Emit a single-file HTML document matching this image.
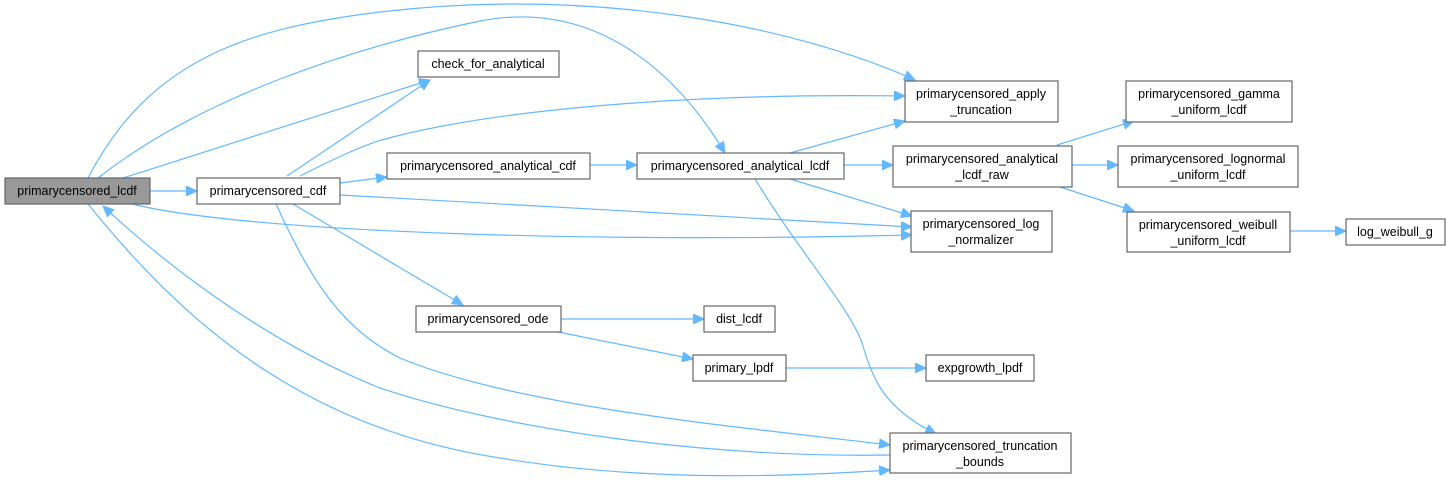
<!DOCTYPE html>
<html><head><meta charset="utf-8"><style>
html,body{margin:0;padding:0;background:#fff;}
svg{display:block;}
text{font-family:"Liberation Sans",Arial,sans-serif;font-size:12.5px;fill:#000;text-anchor:middle;}
.n{fill:#fff;stroke:#666;stroke-width:1.2;}
.e{fill:none;stroke:#63b8ff;stroke-width:1.2;}
</style></head><body>
<svg width="1451" height="484" viewBox="0 0 1451 484" xmlns="http://www.w3.org/2000/svg">
<defs>
<marker id="a" markerUnits="userSpaceOnUse" markerWidth="12" markerHeight="10" refX="11" refY="5" orient="auto">
<path d="M0,0 L11,5 L0,10 Z" fill="#63b8ff" stroke="#63b8ff"/>
</marker>
</defs>
<g transform="translate(0,-2)">
<g marker-end="url(#a)">
<path class="e" d="M150,193 L197,193"/>
<path class="e" d="M123,180 L430,82"/>
<path class="e" d="M88,180 C150,60 250,30 380,14 C600,-12 800,30 915,82"/>
<path class="e" d="M98,180 C200,100 350,50 480,23 C600,0 680,80 725,155"/>
<path class="e" d="M132,206 C250,235 600,245 912,237"/>
<path class="e" d="M88,206 C180,320 300,430 500,460 C650,485 800,478 890,472"/>
<path class="e" d="M890,457 C700,460 500,430 380,390 C280,350 180,280 103,208"/>
<path class="e" d="M287,178 L430,82"/>
<path class="e" d="M300,178 C330,163 360,148 385,141 C500,110 700,95 905,98"/>
<path class="e" d="M340,185 L387,179"/>
<path class="e" d="M340,197 L912,229"/>
<path class="e" d="M293,206 L463,307"/>
<path class="e" d="M276,206 C310,280 340,330 400,360 C520,410 750,430 890,447"/>
<path class="e" d="M590,167 L637,167"/>
<path class="e" d="M790,155 L905,123"/>
<path class="e" d="M844,167 L893,167"/>
<path class="e" d="M790,181 L912,218"/>
<path class="e" d="M755,181 C800,255 850,310 862,345 C874,385 885,410 936,436"/>
<path class="e" d="M1057,147 L1134,123"/>
<path class="e" d="M1072,167 L1118,167"/>
<path class="e" d="M1057,188 L1134,213"/>
<path class="e" d="M1290,233 L1346,233"/>
<path class="e" d="M561,321 L704,321"/>
<path class="e" d="M558,334 L693,361"/>
<path class="e" d="M786,370 L926,370"/>
</g>
<rect x="5" y="180" width="145" height="26" fill="#999" stroke="#666" stroke-width="1.2"/>
<text x="77" y="197">primarycensored_lcdf</text>
<rect class="n" x="197" y="180" width="143" height="26"/><text x="268" y="197">primarycensored_cdf</text>
<rect class="n" x="418" y="53" width="141" height="26"/><text x="488" y="70">check_for_analytical</text>
<rect class="n" x="387" y="155" width="203" height="26"/><text x="488" y="172">primarycensored_analytical_cdf</text>
<rect class="n" x="637" y="155" width="207" height="26"/><text x="740" y="172">primarycensored_analytical_lcdf</text>
<rect class="n" x="905" y="83" width="153" height="41"/><text x="981" y="100">primarycensored_apply</text><text x="981" y="116">_truncation</text>
<rect class="n" x="893" y="148" width="179" height="41"/><text x="982" y="165">primarycensored_analytical</text><text x="982" y="181">_lcdf_raw</text>
<rect class="n" x="911" y="213" width="141" height="41"/><text x="981" y="230">primarycensored_log</text><text x="981" y="246">_normalizer</text>
<rect class="n" x="1126" y="83" width="166" height="41"/><text x="1209" y="100">primarycensored_gamma</text><text x="1209" y="116">_uniform_lcdf</text>
<rect class="n" x="1118" y="148" width="180" height="41"/><text x="1208" y="165">primarycensored_lognormal</text><text x="1208" y="181">_uniform_lcdf</text>
<rect class="n" x="1127" y="214" width="163" height="40"/><text x="1208" y="231">primarycensored_weibull</text><text x="1208" y="247">_uniform_lcdf</text>
<rect class="n" x="1346" y="221" width="99" height="26"/><text x="1395" y="238">log_weibull_g</text>
<rect class="n" x="416" y="308" width="145" height="26"/><text x="488" y="325">primarycensored_ode</text>
<rect class="n" x="704" y="308" width="71" height="26"/><text x="739" y="325">dist_lcdf</text>
<rect class="n" x="693" y="357" width="93" height="26"/><text x="739" y="374">primary_lpdf</text>
<rect class="n" x="926" y="357" width="108" height="26"/><text x="980" y="374">expgrowth_lpdf</text>
<rect class="n" x="890" y="435" width="181" height="40"/><text x="980" y="452">primarycensored_truncation</text><text x="980" y="468">_bounds</text>
</g>
</svg>
</body></html>
